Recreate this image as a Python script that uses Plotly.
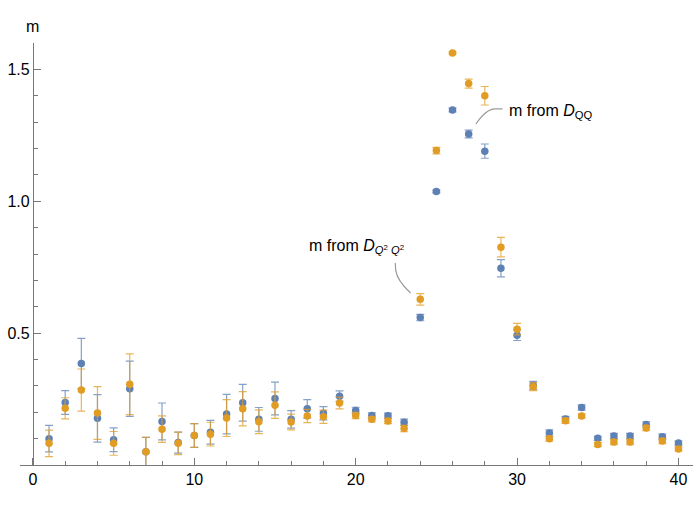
import plotly.graph_objects as go

x_vals = list(range(1, 41))

blue_m = [0.100, 0.237, 0.385, 0.177, 0.096, 0.289, 0.050, 0.165, 0.085, 0.112,
          0.124, 0.193, 0.236, 0.173, 0.252, 0.173, 0.213, 0.196, 0.261, 0.207,
          0.188, 0.187, 0.162, 0.559, 1.037, 1.346, 1.255, 1.190, 0.746, 0.492,
          0.302, 0.121, 0.174, 0.218, 0.101, 0.110, 0.110, 0.154, 0.107, 0.083]
blue_err = [0.050, 0.045, 0.095, 0.090, 0.045, 0.105, 0.055, 0.070, 0.040, 0.045,
            0.045, 0.075, 0.070, 0.045, 0.062, 0.033, 0.035, 0.025, 0.020, 0.012,
            0.010, 0.010, 0.012, 0.012, 0.005, 0.007, 0.015, 0.027, 0.033, 0.020,
            0.015, 0.012, 0.010, 0.010, 0.008, 0.010, 0.010, 0.010, 0.010, 0.008]

orange_m = [0.082, 0.215, 0.284, 0.197, 0.082, 0.306, 0.050, 0.136, 0.082, 0.112,
            0.117, 0.178, 0.213, 0.164, 0.227, 0.163, 0.186, 0.183, 0.235, 0.188,
            0.173, 0.167, 0.138, 0.628, 1.192, 1.562, 1.446, 1.400, 0.826, 0.515,
            0.297, 0.100, 0.168, 0.186, 0.078, 0.087, 0.087, 0.140, 0.091, 0.061]
orange_err = [0.050, 0.040, 0.080, 0.100, 0.045, 0.115, 0.055, 0.050, 0.043, 0.045,
              0.045, 0.070, 0.065, 0.045, 0.050, 0.030, 0.025, 0.025, 0.022, 0.012,
              0.010, 0.010, 0.012, 0.022, 0.012, 0.004, 0.017, 0.035, 0.037, 0.022,
              0.015, 0.010, 0.010, 0.008, 0.008, 0.010, 0.010, 0.010, 0.010, 0.008]

x_ticks = [0, 10, 20, 30, 40]
x_minor = [2, 4, 6, 8, 12, 14, 16, 18, 22, 24, 26, 28, 32, 34, 36, 38]
y_ticks = [0.5, 1.0, 1.5]
y_tick_text = ["0.5", "1.0", "1.5"]
y_minor = [0.1, 0.2, 0.3, 0.4, 0.6, 0.7, 0.8, 0.9, 1.1, 1.2, 1.3, 1.4, 1.6]

label_qq = "m from <i>D</i><sub>QQ</sub>"
label_q2 = "m from <i>D</i><sub><i>Q</i><sup>2</sup> <i>Q</i><sup>2</sup></sub>"

BLUE = "#5E81B5"
ORANGE = "#E19C24"
FONT = "Liberation Sans, Arial, sans-serif"

XMIN, XMAX = -0.8, 40.9
YMIN, YMAX = 0.0, 1.6

fig = go.Figure()
fig.add_trace(go.Scatter(
    x=x_vals, y=blue_m, mode="markers",
    marker=dict(color=BLUE, size=7.5),
    error_y=dict(type="data", array=blue_err, color="rgba(94,129,181,0.75)",
                 thickness=1.2, width=4),
    showlegend=False))
fig.add_trace(go.Scatter(
    x=x_vals, y=orange_m, mode="markers",
    marker=dict(color=ORANGE, size=7.5),
    error_y=dict(type="data", array=orange_err, color="rgba(225,156,36,0.75)",
                 thickness=1.2, width=4),
    showlegend=False))

# leader lines
fig.add_shape(type="path", xref="x", yref="y",
              path="M 27.45,1.293 Q 28.1,1.35 28.62,1.35 L 29.1,1.35",
              line=dict(color="#9a9a9a", width=1.2))
fig.add_shape(type="path", xref="x", yref="y",
              path="M 22.45,0.766 L 22.48,0.739 Q 22.56,0.70 23.40,0.652",
              line=dict(color="#9a9a9a", width=1.2))

fig.add_annotation(x=29.4, y=1.342, xref="x", yref="y", text=label_qq,
                   showarrow=False, xanchor="left", yanchor="middle",
                   font=dict(family=FONT, size=16, color="black"))
fig.add_annotation(x=17.0, y=0.828, xref="x", yref="y", text=label_q2,
                   showarrow=False, xanchor="left", yanchor="middle",
                   font=dict(family=FONT, size=16, color="black"))
fig.add_annotation(x=0, y=1, xref="x", yref="paper", text="m",
                   showarrow=False, xanchor="center", yanchor="bottom", yshift=6,
                   font=dict(family=FONT, size=16, color="black"))

fig.update_layout(
    width=700, height=515,
    margin=dict(l=14, r=7, t=43, b=50),
    paper_bgcolor="white", plot_bgcolor="white",
    font=dict(family=FONT, size=16, color="black"),
    xaxis=dict(range=[XMIN, XMAX], showgrid=False, zeroline=False,
               showline=True, linecolor="#777", linewidth=1,
               tickmode="array", tickvals=x_ticks,
               ticks="inside", ticklen=7, tickcolor="#777", tickwidth=1,
               minor=dict(tickmode="array", tickvals=x_minor, ticks="inside",
                          ticklen=4, tickcolor="#777", tickwidth=1),
               tickfont=dict(family=FONT, size=16, color="black")),
    yaxis=dict(range=[YMIN, YMAX], showgrid=False, zeroline=False,
               anchor="free", position=(0 - XMIN) / (XMAX - XMIN),
               showline=True, linecolor="#777", linewidth=1,
               tickmode="array", tickvals=y_ticks, ticktext=y_tick_text,
               ticks="inside", ticklen=7, tickcolor="#777", tickwidth=1,
               minor=dict(tickmode="array", tickvals=y_minor, ticks="inside",
                          ticklen=4, tickcolor="#777", tickwidth=1),
               tickfont=dict(family=FONT, size=16, color="black")),
)

fig.write_html("out.html")
